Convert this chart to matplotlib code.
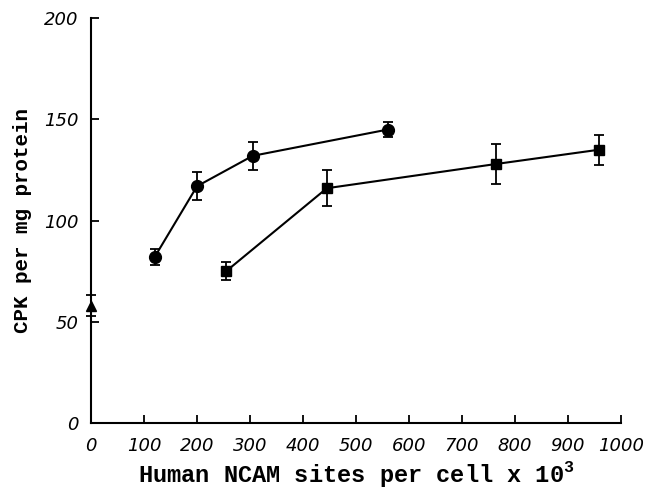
import matplotlib
matplotlib.use("Agg")
import matplotlib.pyplot as plt

# CPK activity vs human NCAM expression
circle_x = [120, 200, 305, 560]
circle_y = [82, 117, 132, 145]
circle_err = [4, 7, 7, 3.5]

square_x = [255, 445, 765, 958]
square_y = [75, 116, 128, 135]
square_err = [4.5, 9, 10, 7.5]

control_x = [0]
control_y = [58]
control_err = [5]

x_ticks = [0, 100, 200, 300, 400, 500, 600, 700, 800, 900, 1000]
y_ticks = [0, 50, 100, 150, 200]

plt.rcParams['mathtext.fontset'] = 'custom'
plt.rcParams['mathtext.rm'] = 'Liberation Mono:bold'

fig = plt.figure(figsize=(6.46, 4.93), dpi=100)
ax = fig.add_axes([0.141, 0.142, 0.82, 0.821])

ax.errorbar(circle_x, circle_y, yerr=circle_err, color='black', marker='o',
            markersize=8.5, linewidth=1.5, capsize=3.5, elinewidth=1.3, capthick=1.3)
ax.errorbar(square_x, square_y, yerr=square_err, color='black', marker='s',
            markersize=7, linewidth=1.5, capsize=3.5, elinewidth=1.3, capthick=1.3)
ax.errorbar(control_x, control_y, yerr=control_err, color='black', marker='^',
            markersize=7, linestyle='none', capsize=3.5, elinewidth=1.3, capthick=1.3,
            clip_on=False)

ax.set_xlim(0, 1000)
ax.set_ylim(0, 200)
ax.set_xticks(x_ticks)
ax.set_yticks(y_ticks)

for side in ['top', 'right']:
    ax.spines[side].set_visible(False)
for side in ['left', 'bottom']:
    ax.spines[side].set_linewidth(1.5)

ax.tick_params(axis='x', direction='in', length=6, width=1.3, pad=10)
ax.tick_params(axis='y', direction='in', length=6, width=1.3, pad=9)

for lab in ax.get_xticklabels() + ax.get_yticklabels():
    lab.set_fontfamily('DejaVu Sans')
    lab.set_fontstyle('oblique')
    lab.set_fontsize(13)

ax.set_xlabel(r'Human NCAM sites per cell x 10$^{3}$', fontfamily='Liberation Mono',
              fontweight='bold', fontsize=17, labelpad=3)
ax.set_ylabel('CPK per mg protein', fontfamily='Liberation Mono',
              fontweight='bold', fontsize=15, labelpad=9)

fig.savefig('out.png', dpi=100)
